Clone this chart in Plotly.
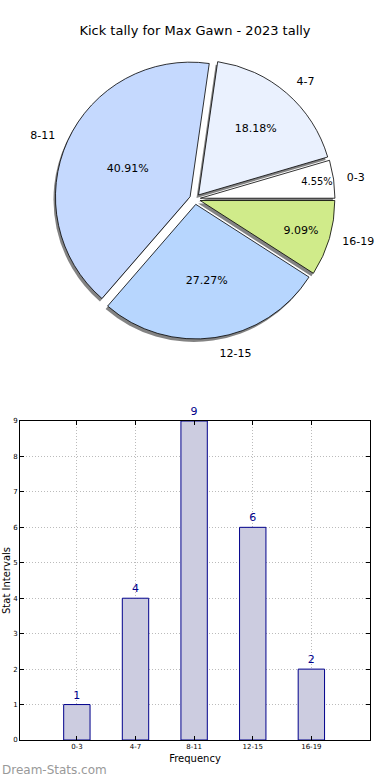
import plotly.graph_objects as go

labels = ["0-3", "4-7", "8-11", "12-15", "16-19"]
counts = [1, 4, 9, 6, 2]
pie_colors = ["#FFFFFF", "#EAF1FE", "#C5D9FE", "#B7D6FE", "#D0EB8A"]
title_text = "Kick tally for Max Gawn - 2023 tally"

W, H = 390, 780
font_family = "DejaVu Sans"

# first slice starts at 3 o'clock and runs counter-clockwise
rot = 90 - 360 * counts[0] / sum(counts)

cx, cy, half = 195, 199, 140
def dom(cx, cy, half):
    return dict(x=[(cx - half) / W, (cx + half) / W],
                y=[1 - (cy + half) / H, 1 - (cy - half) / H])

pull = [0.04] * len(labels)

fig = go.Figure()

# shadow
fig.add_trace(go.Pie(
    labels=labels, values=counts, sort=False, direction="counterclockwise",
    rotation=rot, pull=pull, domain=dom(cx - 2, cy + 3, half),
    marker=dict(colors=["rgba(90,90,90,0.75)"] * 5, line=dict(width=0)),
    textinfo="none", hoverinfo="skip", showlegend=False, automargin=False,
))
# main pie with percentages
fig.add_trace(go.Pie(
    labels=labels, values=counts, sort=False, direction="counterclockwise",
    rotation=rot, pull=pull, domain=dom(cx, cy, half),
    marker=dict(colors=pie_colors, line=dict(color="black", width=0.8)),
    texttemplate="%{percent:.2%}", textposition="inside",
    insidetextorientation="horizontal",
    textfont=dict(family=font_family, size=11, color="black"),
    showlegend=False, automargin=False,
))
# outside labels (transparent pie)
fig.add_trace(go.Pie(
    labels=labels, values=counts, sort=False, direction="counterclockwise",
    rotation=rot, pull=pull, domain=dom(cx, cy, half + 10),
    marker=dict(colors=["rgba(0,0,0,0)"] * 5, line=dict(width=0)),
    texttemplate="%{label}", textposition="outside",
    textfont=dict(family=font_family, size=11, color="black"),
    hoverinfo="skip", showlegend=False, automargin=False,
))

# bar chart
fig.add_trace(go.Bar(
    x=labels, y=counts, width=0.45,
    marker=dict(color="#CCCCE0", line=dict(color="#00008B", width=1)),
    text=[str(c) for c in counts], textposition="outside",
    textfont=dict(family=font_family, size=11, color="#00008B"),
    cliponaxis=False, xaxis="x", yaxis="y", showlegend=False,
))

axis_common = dict(
    showline=True, linecolor="black", linewidth=1, mirror="allticks",
    ticks="inside", ticklen=4, tickcolor="black", automargin=False,
    showgrid=True, gridcolor="#BBBBBB", griddash="1px,2px", gridwidth=1,
    zeroline=False, tickfont=dict(family=font_family, size=7, color="black"),
)

fig.update_layout(
    width=W, height=H, margin=dict(l=0, r=0, t=0, b=0, autoexpand=False),
    paper_bgcolor="white", plot_bgcolor="white", showlegend=False,
    font=dict(family=font_family, color="black"),
    title=dict(text=title_text, x=0.5, xanchor="center", y=1 - 30 / H,
               yanchor="middle",
               font=dict(family=font_family, size=13, color="black")),
    xaxis=dict(domain=[20 / W, 370 / W], type="category", range=[-0.97, 5.0],
               title=dict(text="Frequency", standoff=4,
                          font=dict(family=font_family, size=10)),
               **axis_common),
    yaxis=dict(domain=[1 - 740 / H, 1 - 421 / H], range=[0, 9], dtick=1,
               title=dict(text="Stat Intervals", standoff=0,
                          font=dict(family=font_family, size=10)),
               **axis_common),
    annotations=[dict(text="Dream-Stats.com", xref="paper", yref="paper",
                      x=0, y=1 - 770 / H, xanchor="left", yanchor="middle",
                      showarrow=False,
                      font=dict(family=font_family, size=12, color="#999999"))],
)

fig.write_html(
    "out.html",
    config={"responsive": False, "displayModeBar": False},
    post_script="document.body.style.margin='0px';document.body.style.overflow='hidden';",
)
